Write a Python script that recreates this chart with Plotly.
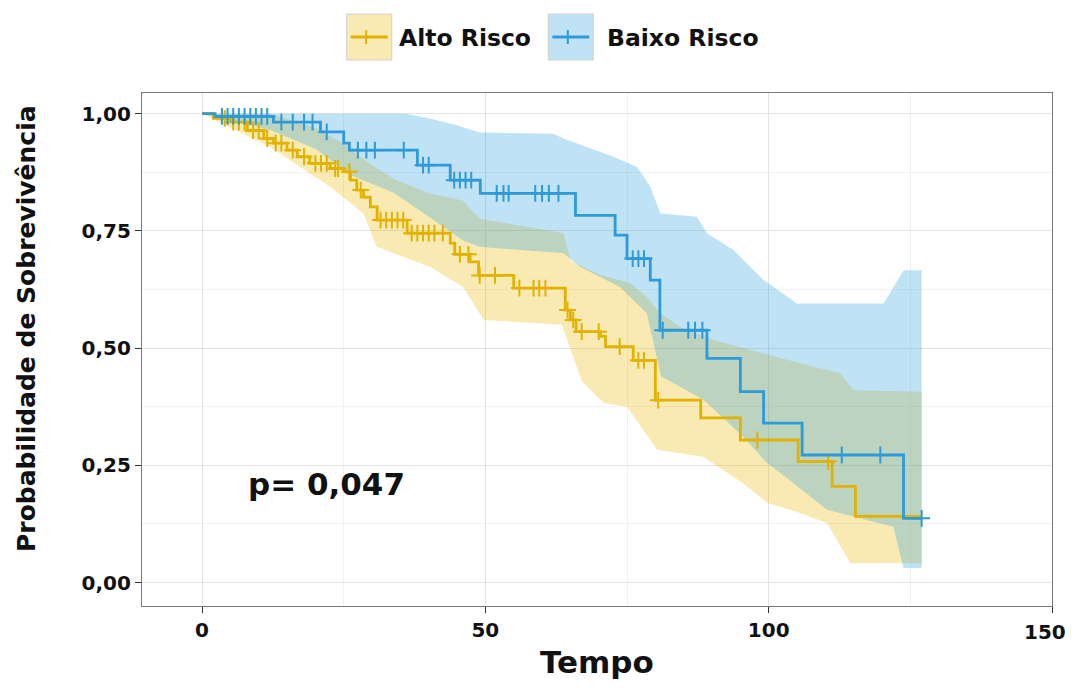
import plotly.graph_objects as go

# ---------------- data ----------------
alto_t = [0, 2, 5, 8, 10.9, 12.6, 15, 16.8, 19, 22.6, 25, 26.2, 27.3, 28.5, 29.7, 30.9,
          36.2, 43.8, 44.6, 47.3, 48.8, 55, 64.1, 65, 66, 70.3, 71.2, 76.1, 80, 88, 95,
          105.2, 111.2, 115.3, 127]
alto_s = [1.0, 0.99, 0.982, 0.964, 0.947, 0.937, 0.922, 0.908, 0.894, 0.883, 0.876, 0.858,
          0.837, 0.822, 0.801, 0.773, 0.745, 0.724, 0.70, 0.684, 0.655, 0.628, 0.581, 0.56,
          0.535, 0.525, 0.503, 0.474, 0.389, 0.351, 0.304, 0.258, 0.205, 0.141, 0.141]
alto_cens = [4, 5.5, 6.5, 7.5, 9, 10, 11.5, 13, 14, 16, 18, 20, 21, 22, 23.5, 24, 26, 28,
             31.5, 32.5, 33.5, 34.5, 35.5, 37, 38, 39, 40, 41, 42.5, 45.5, 47, 49, 51.7, 56,
             58.5, 59.5, 60.6, 64.5, 65.5, 67, 70, 73.7, 77, 78, 80.5, 98, 110.5]

baixo_t = [0, 2.3, 12.6, 20.9, 25, 26, 38, 43.8, 49.1, 65.9, 72.9, 75, 79.1, 80.8, 89.1,
           95, 99.1, 105.9, 123.8, 127]
baixo_s = [1.0, 0.994, 0.982, 0.961, 0.937, 0.922, 0.890, 0.858, 0.830, 0.783, 0.741,
           0.691, 0.645, 0.538, 0.478, 0.407, 0.340, 0.272, 0.137, 0.137]
baixo_cens = [3.5, 4.5, 5.5, 6.5, 7.5, 8.5, 9.5, 10.5, 11.5, 14, 16, 18, 19.5, 22, 27.5, 29,
              30.5, 35.6, 39, 40, 44.5, 45.5, 46.5, 47.5, 52, 53.2, 54.1, 58.8, 60, 61.2,
              62.9, 76, 77, 78, 81.3, 85.8, 87, 88.3, 112.9, 119.7, 127]

# confidence band edges
alto_up_t = [0, 12, 20, 25, 30, 34, 40, 46, 49, 61, 63.8, 65, 69.7, 75.6, 78.5, 80.9,
             84.4, 90.3, 99.1, 107.9, 112.6, 115, 127]
alto_up_s = [1.0, 1.0, 0.97, 0.935, 0.89, 0.86, 0.83, 0.815, 0.776, 0.751, 0.745, 0.687,
             0.659, 0.638, 0.609, 0.574, 0.545, 0.517, 0.489, 0.46, 0.447, 0.41, 0.407]
alto_lo_t = [0, 5, 12, 22.6, 28.5, 30.8, 40.3, 46.1, 49.7, 63.5, 65, 67, 70.9, 75, 80.3,
             88.5, 95.5, 99.7, 105.6, 110.3, 114.4, 127]
alto_lo_s = [1.0, 0.97, 0.929, 0.844, 0.787, 0.716, 0.673, 0.63, 0.56, 0.55, 0.50, 0.43,
             0.383, 0.375, 0.283, 0.268, 0.212, 0.17, 0.148, 0.127, 0.041, 0.041]

baixo_up_t = [0, 36, 40, 45, 49, 62, 63.8, 72.6, 76.8, 79.1, 80.9, 87.3, 89.1, 93.8, 99.1,
              105, 120.3, 123.8, 127]
baixo_up_s = [1.0, 1.0, 0.99, 0.975, 0.96, 0.957, 0.947, 0.908, 0.886, 0.844, 0.787, 0.78,
              0.745, 0.709, 0.645, 0.595, 0.595, 0.666, 0.666]
baixo_lo_t = [0, 5, 12, 20, 26, 34, 40, 46, 49, 63.8, 66.8, 73.8, 78.5, 81, 88.5, 95.5,
              99.7, 104.4, 110.3, 122, 123.8, 127]
baixo_lo_s = [1.0, 0.985, 0.965, 0.925, 0.87, 0.83, 0.78, 0.73, 0.716, 0.702, 0.673, 0.63,
              0.574, 0.44, 0.39, 0.311, 0.255, 0.212, 0.155, 0.119, 0.031, 0.031]

groups = ["Alto Risco", "Baixo Risco"]
x_ticks = [0, 50, 100, 150]
x_ticktext = ["0", "50", "100", "150"]
y_ticks = [0, 0.25, 0.5, 0.75, 1.0]
y_ticktext = ["0,00", "0,25", "0,50", "0,75", "1,00"]
x_title = "Tempo"
y_title = "Probabilidade de Sobrevivência"
p_text = "p= 0,047"

# ---------------- styling ----------------
LINE = {"Alto Risco": "#E2B200", "Baixo Risco": "#2E9AD6"}
FILL = {"Alto Risco": "rgba(231,184,0,0.30)", "Baixo Risco": "rgba(46,159,223,0.30)"}
FONT = "DejaVu Sans"
TXT = "#111"
OFF = 8                           # default page body margin
W, H = 1077 - OFF, 691 - 2 * OFF  # figure size so the page fits the window
# desired panel in window pixels: x 142..1052, y 93..606
ML, MT = 142 - OFF, 93 - OFF
MR = W - (1052 - OFF)
MB = H - (606 - OFF)
PW, PH = W - ML - MR, H - MT - MB


def px2paper(px, py):
    """window pixel -> paper coordinates"""
    return (px - OFF - ML) / PW, (H - MB - (py - OFF)) / PH


def step_value(ts, ss, t):
    v = ss[0]
    for ti, si in zip(ts, ss):
        if ti <= t:
            v = si
        else:
            break
    return v


fig = go.Figure()

series = {
    "Alto Risco": (alto_t, alto_s, alto_cens, alto_up_t, alto_up_s, alto_lo_t, alto_lo_s),
    "Baixo Risco": (baixo_t, baixo_s, baixo_cens, baixo_up_t, baixo_up_s, baixo_lo_t, baixo_lo_s),
}

# bands
for g in groups:
    t, s, c, ut, us, lt, ls = series[g]
    fig.add_trace(go.Scatter(x=lt, y=ls, mode="lines", line=dict(width=0, color=LINE[g]),
                             showlegend=False, hoverinfo="skip"))
    fig.add_trace(go.Scatter(x=ut, y=us, mode="lines", line=dict(width=0, color=LINE[g]),
                             fill="tonexty", fillcolor=FILL[g], showlegend=False,
                             hoverinfo="skip"))

# curves + censor marks
for g in groups:
    t, s, c, ut, us, lt, ls = series[g]
    fig.add_trace(go.Scatter(x=t, y=s, mode="lines", line=dict(color=LINE[g], width=2.8,
                             shape="hv"), showlegend=False, name=g))
    fig.add_trace(go.Scatter(x=c, y=[step_value(t, s, ci) for ci in c], mode="markers",
                             marker=dict(symbol="cross-thin", size=12,
                                         line=dict(width=2, color=LINE[g])),
                             showlegend=False, name=g))

# legend (drawn as key boxes + labels above the panel)
legend_keys = {"Alto Risco": (346.7, 396.7), "Baixo Risco": (548.3, 604.5)}
KEY_W, KEY_TOP, KEY_BOT = 45, 14, 60
for g in groups:
    kx, tx = legend_keys[g]
    x0, y0 = px2paper(kx, KEY_BOT)
    x1, y1 = px2paper(kx + KEY_W, KEY_TOP)
    fig.add_shape(type="rect", xref="paper", yref="paper", x0=x0, x1=x1, y0=y0, y1=y1,
                  fillcolor=FILL[g], line=dict(color="#D4D4D4", width=1.2), layer="above")
    cy = (KEY_TOP + KEY_BOT) / 2
    lx0, ly = px2paper(kx + 4, cy)
    lx1, _ = px2paper(kx + KEY_W - 4, cy)
    fig.add_shape(type="line", xref="paper", yref="paper", x0=lx0, x1=lx1, y0=ly, y1=ly,
                  line=dict(color=LINE[g], width=2.8), layer="above")
    cx, cy0 = px2paper(kx + KEY_W / 2 - 3, cy - 7)
    _, cy1 = px2paper(kx + KEY_W / 2 - 3, cy + 7)
    fig.add_shape(type="line", xref="paper", yref="paper", x0=cx, x1=cx, y0=cy0, y1=cy1,
                  line=dict(color=LINE[g], width=2), layer="above")
    ax, ay = px2paper(tx, cy + 1)
    fig.add_annotation(x=ax, y=ay, xref="paper", yref="paper", text=g, showarrow=False,
                       xanchor="left", yanchor="middle",
                       font=dict(family=FONT, size=23.5, color=TXT, weight="bold"))

# axis titles
tx_, ty_ = px2paper(597, 662)
fig.add_annotation(x=tx_, y=ty_, xref="paper", yref="paper", text=x_title, showarrow=False,
                   xanchor="center", yanchor="middle",
                   font=dict(family=FONT, size=31, color=TXT, weight="bold"))
yx_, yy_ = px2paper(26, 329)
fig.add_annotation(x=yx_, y=yy_, xref="paper", yref="paper", text=y_title, showarrow=False,
                   textangle=-90, xanchor="center", yanchor="middle",
                   font=dict(family=FONT, size=25, color=TXT, weight="bold"))

fig.add_annotation(x=22.0, y=0.21, xref="x", yref="y", text=p_text, showarrow=False,
                   font=dict(family=FONT, size=31, color=TXT, weight="bold"))

TICKFONT = dict(family=FONT, size=20, color=TXT, weight="bold")
axis_common = dict(showline=True, mirror=True, linecolor="#7a7a7a", linewidth=1.3,
                   ticks="outside", ticklen=6, tickwidth=1.3, tickcolor="#333",
                   showgrid=True, gridcolor="#E3E3E3", gridwidth=1, zeroline=False,
                   automargin=False, tickfont=TICKFONT)

# the last x label sits at the window's edge: draw it left-shifted like the reference
fig.update_xaxes(range=[-10.6, 150], tickvals=x_ticks,
                 ticktext=x_ticktext[:-1] + [""],
                 minor=dict(tickvals=[25, 75, 125], showgrid=True, gridcolor="#F1F1F1",
                            ticks=""),
                 **axis_common)
lx_, ly_ = px2paper(1045, 632)
fig.add_annotation(x=lx_, y=ly_, xref="paper", yref="paper", text=x_ticktext[-1],
                   showarrow=False, xanchor="center", yanchor="middle", font=TICKFONT)

fig.update_yaxes(range=[-0.05, 1.044], tickvals=y_ticks, ticktext=y_ticktext,
                 minor=dict(tickvals=[0.125, 0.375, 0.625, 0.875], showgrid=True,
                            gridcolor="#F1F1F1", ticks=""),
                 **axis_common)

fig.update_layout(
    width=W, height=H,
    margin=dict(l=ML, r=MR, t=MT, b=MB, autoexpand=False),
    plot_bgcolor="white", paper_bgcolor="white",
    showlegend=False,
)

fig.write_html("out.html")
